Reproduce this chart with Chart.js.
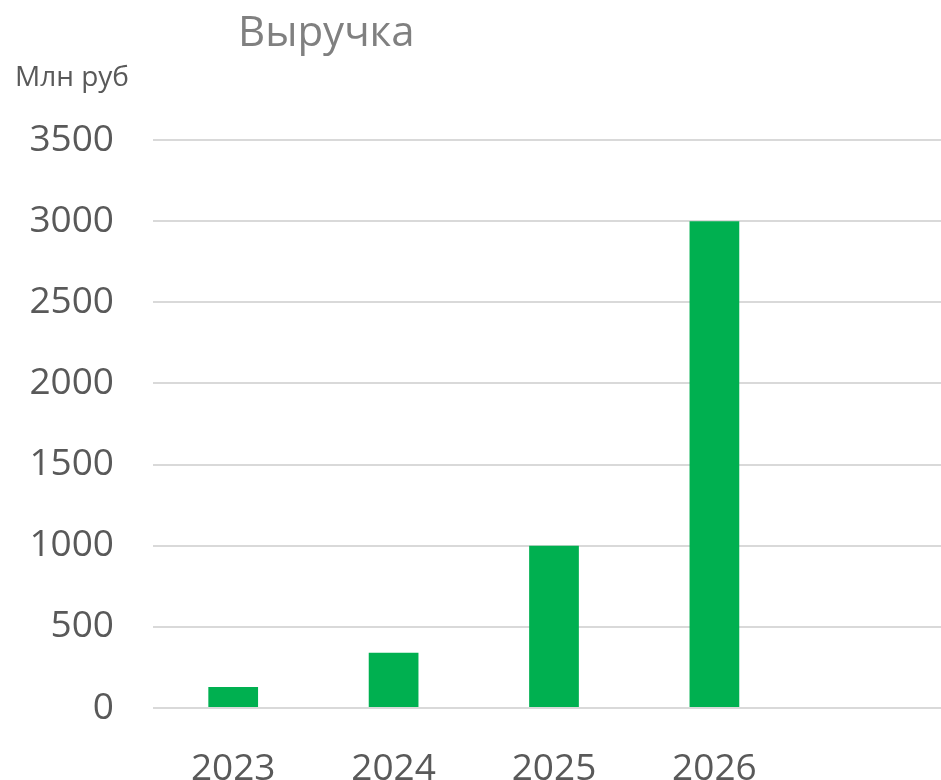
<!DOCTYPE html>
<html lang="ru">
<head>
<meta charset="utf-8">
<title>Выручка</title>
<script src="https://cdn.jsdelivr.net/npm/chart.js@4/dist/chart.umd.min.js"></script>
<style>
  html, body { margin: 0; padding: 0; overflow: hidden; background: #fff; }
  body { width: 941px; height: 780px; position: relative; font-family: "Open Sans", sans-serif; }
  #wrap { position: absolute; left: 0; top: 0; width: 955px; height: 800px; }
  #title { position: absolute; left: 238px; top: 1px; font-size: 42px; color: #808080; white-space: nowrap; }
  #unit { position: absolute; left: 15px; top: 56px; font-size: 28px; color: #595959; white-space: nowrap; }
</style>
</head>
<body>
<div id="wrap"><canvas id="barChart" width="955" height="800"></canvas></div>
<div id="title">Выручка</div>
<div id="unit">Млн руб</div>
<script>
const years = ["2023", "2024", "2025", "2026", ""];
const revenue = [130, 340, 1000, 3000, null];
const yTicks = [0, 500, 1000, 1500, 2000, 2500, 3000, 3500];

const tickColor = "#595959";

const data = {
  labels: years,
  datasets: [
    {
      label: "Выручка",
      data: revenue,
      backgroundColor: "#00b050",
      borderWidth: 0,
      barPercentage: 0.31,
      categoryPercentage: 1,
    },
  ],
};

// config
const myChart = new Chart(document.getElementById("barChart").getContext("2d"), {
  type: "bar",
  data,
  options: {
    responsive: false,
    animation: {
      duration: 0,
    },
    layout: {
      padding: { top: 140, right: 0, left: 0, bottom: 0 },
    },
    plugins: {
      legend: { display: false },
      tooltip: { enabled: false },
    },
    scales: {
      y: {
        min: 0,
        max: 3500,
        afterFit: (scale) => { scale.width = 153; },
        afterBuildTicks: (scale) => {
          scale.ticks = yTicks.map((v) => ({ value: v }));
        },
        ticks: {
          color: tickColor,
          padding: 39,
          font: { family: "Open Sans", size: 37 },
          callback: (value) => String(value),
        },
        grid: {
          color: "#d9d9d9",
          lineWidth: 2,
          drawTicks: false,
        },
        border: { display: false },
      },
      x: {
        afterFit: (scale) => { scale.height = 92; },
        ticks: {
          color: tickColor,
          padding: 31,
          maxRotation: 0,
          font: { family: "Open Sans", size: 37 },
        },
        grid: { display: false },
        border: { display: false },
      },
    },
  },
});

myChart.update();
</script>
</body>
</html>
